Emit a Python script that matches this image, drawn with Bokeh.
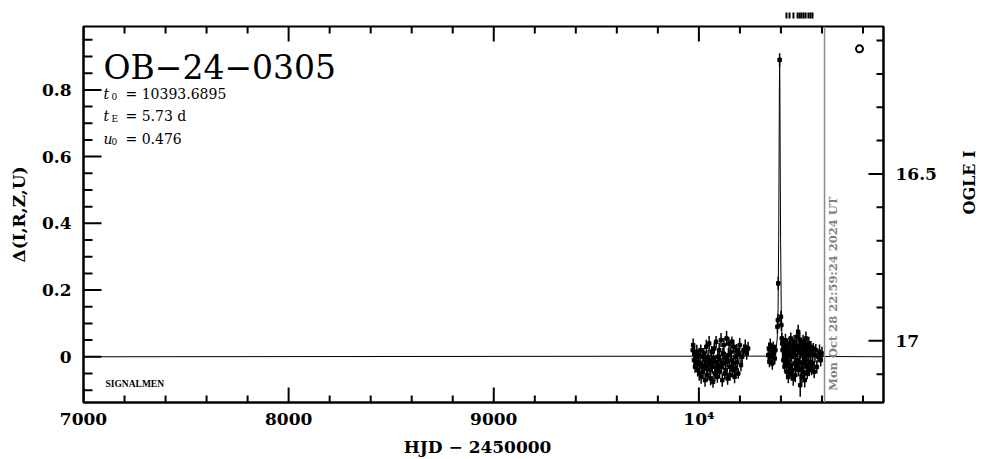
import math
import numpy as np
from bokeh.plotting import figure
from bokeh.models import Range1d, LinearAxis, FixedTicker, Label, Arrow, NormalHead, Span
from bokeh.embed import file_html
from bokeh.resources import INLINE

# ---------------- data ----------------
# OGLE photometry, 2023 season (HJD-2450000, delta mag, error)
t1 = [9970, 9972, 9976, 9979, 9981, 9985, 9988, 9990, 9994, 9997,
      10000, 10002, 10006, 10009, 10011, 10015, 10018, 10020, 10024, 10027,
      10030, 10032, 10036, 10039, 10041, 10045, 10048, 10050, 10054, 10057,
      10060, 10062, 10066, 10069, 10071, 10075, 10078, 10080, 10084, 10087,
      10090, 10092, 10096, 10099, 10101, 10105, 10108, 10110, 10114, 10117,
      10120, 10122, 10126, 10129, 10131, 10135, 10138, 10140, 10144, 10147,
      10150, 10152, 10156, 10159, 10161, 10165, 10168, 10170, 10174, 10177,
      10180, 10184, 10187, 10192, 10196, 10199, 10205, 10211, 10218, 10226,
      10233, 10240]
d1 = [0.02, 0.035, -0.01, 0.01, -0.03, 0.0, -0.02, 0.015, -0.04, -0.015,
      0.005, -0.05, -0.02, 0.02, -0.06, -0.03, 0.0, -0.045, 0.01, -0.025,
      -0.07, -0.01, 0.03, -0.035, -0.055, 0.0, -0.02, 0.04, -0.04, -0.065,
      -0.01, 0.015, -0.03, -0.075, -0.005, 0.025, -0.05, -0.015, 0.045, -0.035,
      -0.06, 0.0, -0.025, 0.02, -0.045, -0.01, 0.05, -0.03, -0.07, 0.01,
      -0.02, 0.035, -0.05, -0.005, -0.04, 0.055, -0.015, -0.065, 0.005, 0.04,
      -0.03, -0.055, 0.015, -0.01, 0.045, -0.04, -0.02, 0.03, -0.06, 0.0,
      -0.035, 0.02, -0.015, -0.05, 0.01, 0.035, -0.025, 0.0, 0.02, 0.03,
      0.01, 0.025]
e1 = [0.018, 0.02, 0.016, 0.022, 0.018, 0.02, 0.017, 0.021, 0.019, 0.016,
      0.02, 0.022, 0.018, 0.017, 0.021, 0.019, 0.018, 0.02, 0.016, 0.022,
      0.02, 0.018, 0.021, 0.017, 0.019, 0.02, 0.018, 0.022, 0.016, 0.02,
      0.019, 0.017, 0.021, 0.018, 0.02, 0.016, 0.022, 0.019, 0.017, 0.021,
      0.018, 0.02, 0.016, 0.022, 0.019, 0.017, 0.021, 0.018, 0.02, 0.016,
      0.019, 0.021, 0.017, 0.02, 0.018, 0.022, 0.016, 0.019, 0.021, 0.018,
      0.02, 0.017, 0.019, 0.022, 0.016, 0.02, 0.018, 0.021, 0.019, 0.017,
      0.02, 0.018, 0.022, 0.016, 0.019, 0.021, 0.018, 0.02, 0.017, 0.022,
      0.019, 0.02]

# OGLE photometry, 2024 season
t2 = [10338, 10341, 10344, 10348, 10351, 10355, 10358, 10362, 10366, 10370,
      10373, 10383, 10385, 10387, 10393.6, 10400, 10402, 10404,
      10406, 10408, 10410, 10412, 10414, 10416, 10418, 10420, 10422, 10424,
      10426, 10428, 10430, 10432, 10434, 10436, 10438, 10440, 10442, 10444,
      10446, 10448, 10450, 10452, 10454, 10456, 10458, 10460, 10462, 10464,
      10466, 10468, 10470, 10472, 10474, 10476, 10478, 10480, 10482, 10484,
      10486, 10488, 10490, 10492, 10494, 10496, 10498, 10500, 10502, 10504,
      10506, 10508, 10510, 10512, 10514, 10516, 10518, 10520, 10522, 10524,
      10526, 10528, 10530, 10532, 10534, 10536, 10538, 10540, 10543, 10546,
      10549, 10552, 10555, 10558, 10562, 10566, 10570, 10575, 10581, 10588,
      10594, 10600]
d2 = [0.005, 0.025, -0.015, 0.035, 0.0, 0.015, -0.02, 0.03, 0.01, -0.005,
      0.02, 0.09, 0.11, 0.22, 0.89, 0.12, 0.095, 0.055,
      0.04, 0.02, 0.045, -0.01, 0.03, 0.0, -0.03, 0.025, 0.05, -0.02,
      0.01, -0.045, 0.035, -0.015, 0.02, -0.06, 0.005, 0.04, -0.035, 0.015,
      -0.025, 0.055, -0.05, 0.0, 0.03, -0.04, 0.02, -0.065, 0.01, 0.045,
      -0.02, 0.025, -0.055, 0.005, 0.035, -0.03, 0.06, -0.01, 0.02, 0.075,
      -0.04, 0.03, -0.015, 0.05, -0.085, 0.01, -0.035, 0.04, -0.06, 0.015,
      -0.02, 0.045, -0.045, 0.0, 0.025, -0.07, 0.035, -0.01, 0.055, -0.03,
      0.015, -0.05, 0.03, -0.025, 0.005, 0.04, -0.04, 0.02, -0.015, 0.03,
      -0.035, 0.01, -0.02, 0.025, -0.045, 0.005, 0.02, -0.03, 0.0, 0.015,
      -0.01, 0.01]
e2 = [0.015, 0.018, 0.016, 0.02, 0.017, 0.015, 0.019, 0.016, 0.018, 0.017,
      0.016, 0.02, 0.018, 0.02, 0.02, 0.018, 0.017, 0.016,
      0.018, 0.02, 0.016, 0.022, 0.018, 0.02, 0.017, 0.021, 0.019, 0.016,
      0.02, 0.022, 0.018, 0.017, 0.021, 0.019, 0.018, 0.02, 0.016, 0.022,
      0.02, 0.018, 0.021, 0.017, 0.019, 0.02, 0.018, 0.022, 0.016, 0.02,
      0.019, 0.017, 0.021, 0.018, 0.02, 0.016, 0.022, 0.019, 0.017, 0.021,
      0.018, 0.02, 0.016, 0.022, 0.035, 0.017, 0.021, 0.018, 0.02, 0.016,
      0.019, 0.021, 0.017, 0.02, 0.018, 0.022, 0.016, 0.019, 0.021, 0.018,
      0.02, 0.017, 0.019, 0.022, 0.016, 0.02, 0.018, 0.021, 0.019, 0.017,
      0.02, 0.018, 0.022, 0.016, 0.019, 0.021, 0.018, 0.02, 0.017, 0.022,
      0.019, 0.02]

# microlensing model (t0 = 10393.6895, tE = 5.73 d, u0 = 0.476)
model_t = [7000, 10360, 10375, 10382, 10386, 10389, 10391, 10392.5, 10393.69,
           10395, 10396.5, 10398.5, 10401.5, 10405, 10412, 10430, 10900]
model_d = [0.0, 0.002, 0.013, 0.056, 0.143, 0.351, 0.599, 0.813, 0.893,
           0.798, 0.581, 0.340, 0.149, 0.061, 0.014, 0.0015, 0.0]

now_t = 10612.46
now_text = "Mon Oct 28 22:59:24 2024 UT"
arrow_t = [10427, 10442, 10461, 10481, 10491, 10500, 10510, 10520, 10534, 10544, 10554]
marker_t = [10783]
marker_d = [0.923]

x_major = [7000, 8000, 9000, 10000]
x_minor = [7200, 7400, 7600, 7800, 8200, 8400, 8600, 8800, 9200, 9400, 9600, 9800,
           10200, 10400, 10600, 10800]
x_labels = {7000: "7000", 8000: "8000", 9000: "9000", 10000: "10\u2074"}
y_major = [0, 0.2, 0.4, 0.6, 0.8]
y_minor = [-0.1, -0.05, 0.05, 0.1, 0.15, 0.25, 0.3, 0.35, 0.45, 0.5, 0.55,
           0.65, 0.7, 0.75, 0.85, 0.9, 0.95]
y_labels = {0: "0", 0.2: "0.2", 0.4: "0.4", 0.6: "0.6", 0.8: "0.8"}
m_major = [16.5, 17]
m_minor = [16.1, 16.2, 16.3, 16.4, 16.6, 16.7, 16.8, 16.9, 17.1]
m_labels = {16.5: "16.5", 17: "17"}

# ---------------- figure ----------------
X0, X1 = 7000, 10900
Y0, Y1 = -0.137, 0.990
M0, M1 = 17.185, 16.058
FW, FH = 800, 376

p = figure(frame_width=FW, frame_height=FH, output_backend="svg", toolbar_location=None,
           x_range=Range1d(X0, X1), y_range=Range1d(Y0, Y1),
           x_axis_location=None, y_axis_location=None,
           min_border_left=83, min_border_right=103, min_border_top=26, min_border_bottom=57)
p.extra_y_ranges = {"mag": Range1d(M0, M1)}
p.grid.visible = False
p.outline_line_color = "black"
p.outline_line_width = 2
p.background_fill_color = "white"
p.border_fill_color = "white"

FONT = "DejaVu Serif"

def style(ax):
    ax.major_tick_in = 0
    ax.major_tick_out = 0
    ax.minor_tick_in = 0
    ax.minor_tick_out = 0
    ax.axis_line_width = 2
    ax.major_label_text_font = FONT
    ax.major_label_text_font_style = "bold"
    ax.major_label_text_font_size = "17px"
    ax.major_label_text_color = "black"
    ax.axis_label_text_font = FONT
    ax.axis_label_text_font_style = "bold"
    ax.axis_label_text_font_size = "17px"
    ax.axis_label_text_color = "black"

bottom = LinearAxis(ticker=FixedTicker(ticks=x_major, minor_ticks=x_minor),
                    major_label_overrides=x_labels, axis_label="HJD  \u2212  2450000")
style(bottom)
bottom.major_label_standoff = 6
bottom.axis_label_standoff = 5
p.add_layout(bottom, "below")

left = LinearAxis(ticker=FixedTicker(ticks=y_major, minor_ticks=y_minor),
                  major_label_overrides=y_labels, axis_label="\u0394(I,R,Z,U)")
style(left)
left.major_label_standoff = 12
left.axis_label_standoff = 10
p.add_layout(left, "left")

right = LinearAxis(y_range_name="mag", ticker=FixedTicker(ticks=m_major, minor_ticks=m_minor),
                   major_label_overrides=m_labels, axis_label="OGLE I")
style(right)
right.major_label_standoff = 12
right.axis_label_standoff = 30
right.axis_label_text_font_size = "16px"
if "axis_label_orientation" in right.properties():
    right.axis_label_orientation = math.pi / 2
p.add_layout(right, "right")

# inward tick marks on all four sides (lengths in px converted to data units)
dx = (X1 - X0) / FW
dy = (Y1 - Y0) / FH
def vticks(xs, length):
    xs = np.array(xs, dtype=float)
    p.segment(x0=xs, y0=np.full(len(xs), Y0), x1=xs, y1=np.full(len(xs), Y0 + length * dy),
              line_color="black", line_width=2)
    p.segment(x0=xs, y0=np.full(len(xs), Y1), x1=xs, y1=np.full(len(xs), Y1 - length * dy),
              line_color="black", line_width=2)
vticks(x_major, 15)
vticks(x_minor, 7)
ym = np.array(y_major, dtype=float)
yn = np.array(y_minor, dtype=float)
p.segment(x0=np.full(len(ym), X0), y0=ym, x1=np.full(len(ym), X0 + 18 * dx), y1=ym,
          line_color="black", line_width=2)
p.segment(x0=np.full(len(yn), X0), y0=yn, x1=np.full(len(yn), X0 + 9 * dx), y1=yn,
          line_color="black", line_width=2)
mm = np.array(m_major, dtype=float)
mn = np.array(m_minor, dtype=float)
p.segment(x0=np.full(len(mm), X1), y0=mm, x1=np.full(len(mm), X1 - 15 * dx), y1=mm,
          line_color="black", line_width=2, y_range_name="mag")
p.segment(x0=np.full(len(mn), X1), y0=mn, x1=np.full(len(mn), X1 - 7 * dx), y1=mn,
          line_color="black", line_width=2, y_range_name="mag")

# model curve
p.line(model_t, model_d, line_color="black", line_width=1)

# data with error bars
for t, d, e in ((t1, d1, e1), (t2, d2, e2)):
    n = min(len(t), len(d), len(e))
    ta = np.array(t[:n], dtype=float)
    da = np.array(d[:n], dtype=float)
    ea = np.array(e[:n], dtype=float)
    p.segment(x0=ta, y0=da - ea, x1=ta, y1=da + ea, line_color="black", line_width=1.5)
    p.scatter(ta, da, marker="square", size=3.5, color="black")

# current date line
p.add_layout(Span(location=now_t, dimension="height", line_color="#8c8c8c", line_width=1.5))
p.add_layout(Label(x=now_t, y=-0.102, text=now_text, angle=90, angle_units="deg",
                   text_align="left", text_baseline="middle", x_offset=8,
                   text_color="#7f7f7f", text_font=FONT, text_font_style="bold",
                   text_font_size="11.5px"))

# symbol in the upper right
p.scatter(marker_t, marker_d, marker="circle", size=7, line_color="black", line_width=2,
          fill_color="white")

# arrows above the frame
for ta in arrow_t:
    p.add_layout(Arrow(end=NormalHead(size=6, fill_color="black", line_color="black", line_width=1),
                       x_start=ta, y_start=1.09, x_end=ta, y_end=1.014,
                       line_color="black", line_width=2))

# title and parameters
p.add_layout(Label(x=7097.5, y=0.867, text="OB\u221224\u22120305", text_font=FONT,
                   text_font_size="33px", text_baseline="alphabetic", text_color="black"))

def param(y, sym, sub, rest):
    p.add_layout(Label(x=7097.5, y=y, text=sym, text_font=FONT, text_font_style="italic",
                       text_font_size="14px", text_baseline="alphabetic", text_color="black"))
    p.add_layout(Label(x=7097.5, y=y, text=sub, text_font=FONT, x_offset=8, y_offset=-3,
                       text_font_size="9px", text_baseline="alphabetic", text_color="black"))
    p.add_layout(Label(x=7097.5, y=y, text=rest, text_font=FONT, x_offset=22,
                       text_font_size="14px", text_baseline="alphabetic", text_color="black"))

param(0.789, "t", "0", "= 10393.6895")
param(0.723, "t", "E", "= 5.73  d")
param(0.654, "u", "0", "= 0.476")

p.add_layout(Label(x=7107, y=-0.081, text="SIGNALMEN", text_font="Liberation Serif",
                   text_font_style="bold", text_font_size="9.5px", text_baseline="alphabetic",
                   text_color="black"))

open("out.html", "w").write(file_html(p, INLINE))
